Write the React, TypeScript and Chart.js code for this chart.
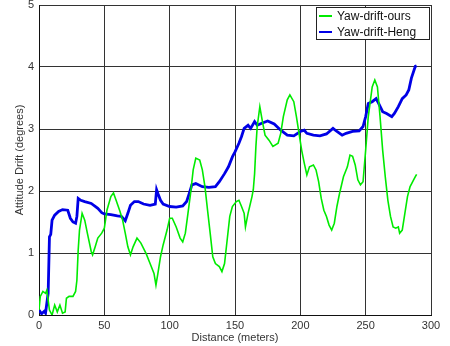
import React, { useEffect, useRef } from "react";
import { Chart, registerables } from "chart.js";

Chart.register(...registerables);

const xTicks = [0, 50, 100, 150, 200, 250, 300];
const yTicks = [0, 1, 2, 3, 4, 5];

const seriesNames = ["Yaw-drift-ours", "Yaw-drift-Heng"];

const oursX = [0, 1, 3, 5, 6, 7, 8, 10, 12, 14, 16, 18, 20, 21, 23, 26, 28, 29, 30, 31, 33, 35, 37, 40, 41, 43, 45, 48, 50, 52, 55, 57, 59, 62, 64, 66, 68, 70, 72, 75, 78, 82, 85, 88, 89.5, 91, 93, 95, 98, 100, 102, 105, 108, 110, 112, 114, 116, 118, 120, 123, 125, 127, 129, 131, 133, 135, 138, 140, 142, 144, 146, 148, 151, 153, 155, 157, 158, 160, 163, 164, 165, 166, 167, 169, 171, 173, 176, 179, 183, 185, 187, 190, 192, 195, 197, 199, 201, 203, 205, 207, 210, 212, 214, 216, 218, 220, 222, 224, 226, 228, 230, 233, 236, 238, 240, 242, 244, 246, 248, 250, 252, 255, 257, 259, 261, 263, 265, 267, 269, 271, 273, 275, 276, 278, 280, 282, 284, 286, 288, 289];
const oursY = [0.08, 0.3, 0.38, 0.35, 0.4, 0.24, 0.08, 0, 0.16, 0.05, 0.16, 0.03, 0.05, 0.27, 0.3, 0.3, 0.38, 0.56, 1.05, 1.37, 1.64, 1.53, 1.32, 1.02, 0.97, 1.1, 1.24, 1.32, 1.4, 1.69, 1.91, 1.97, 1.85, 1.67, 1.53, 1.32, 1.1, 0.97, 1.1, 1.24, 1.16, 0.99, 0.83, 0.67, 0.48, 0.67, 0.94, 1.13, 1.37, 1.56, 1.56, 1.42, 1.24, 1.18, 1.32, 1.64, 1.96, 2.34, 2.53, 2.5, 2.34, 2.07, 1.69, 1.32, 0.94, 0.83, 0.78, 0.7, 0.83, 1.21, 1.59, 1.75, 1.83, 1.85, 1.75, 1.64, 1.42, 1.64, 1.91, 2.02, 2.28, 2.72, 3.04, 3.36, 3.12, 2.9, 2.82, 2.72, 2.77, 2.93, 3.2, 3.47, 3.55, 3.44, 3.2, 2.93, 2.66, 2.45, 2.26, 2.39, 2.42, 2.34, 2.15, 1.88, 1.69, 1.59, 1.45, 1.37, 1.48, 1.75, 1.96, 2.23, 2.39, 2.58, 2.56, 2.42, 2.18, 2.1, 2.15, 2.66, 3.2, 3.68, 3.79, 3.68, 3.2, 2.66, 2.23, 1.85, 1.59, 1.42, 1.4, 1.42, 1.32, 1.37, 1.64, 1.91, 2.07, 2.15, 2.23, 2.27];

const hengX = [0, 2, 4, 5, 7, 8, 9, 10, 12, 15, 18, 22, 24, 26, 28, 29, 30, 32, 35, 40, 45, 48, 50, 55, 60, 63, 66, 68, 70, 73, 76, 80, 85, 89, 90, 91, 93, 95, 100, 105, 110, 113, 115, 117, 120, 125, 130, 135, 138, 142, 145, 148, 150, 153, 155, 157, 160, 162, 165, 167, 170, 175, 180, 185, 190, 195, 200, 203, 205, 210, 215, 220, 225, 228, 232, 235, 240, 245, 248, 250, 252, 255, 258, 260, 263, 266, 270, 272, 275, 278, 281, 283, 285, 288, 289];
const hengY = [0.08, 0.02, 0.06, 0.03, 0.35, 1.26, 1.3, 1.53, 1.61, 1.67, 1.7, 1.69, 1.56, 1.5, 1.48, 1.59, 1.88, 1.85, 1.83, 1.8, 1.72, 1.65, 1.63, 1.62, 1.6, 1.59, 1.52, 1.64, 1.77, 1.83, 1.83, 1.79, 1.77, 1.79, 2.02, 1.96, 1.85, 1.79, 1.75, 1.74, 1.76, 1.83, 1.96, 2.1, 2.12, 2.07, 2.06, 2.07, 2.15, 2.28, 2.39, 2.55, 2.63, 2.77, 2.88, 3.01, 3.06, 3.01, 3.12, 3.06, 3.09, 3.13, 3.08, 2.98, 2.9, 2.89, 2.96, 2.98, 2.93, 2.9, 2.89, 2.92, 3.01, 2.96, 2.9, 2.93, 2.96, 2.97, 3.04, 3.2, 3.41, 3.44, 3.49, 3.41, 3.28, 3.25, 3.2, 3.25, 3.36, 3.49, 3.55, 3.63, 3.82, 4.01, 4.02];

const FONT = "'Liberation Sans', Arial, Helvetica, sans-serif";
const GREEN = "rgb(0,235,0)";
const BLUE = "rgb(0,0,230)";

const legendPlugin = {
  id: "boxLegend",
  afterDraw(chart: any) {
    const { ctx, chartArea } = chart;
    const w = 113;
    const h = 32;
    const right = chartArea.right - 2;
    const left = right - w;
    const top = chartArea.top + 2;
    ctx.save();
    ctx.fillStyle = "#fff";
    ctx.fillRect(left, top, w, h);
    ctx.strokeStyle = "#222";
    ctx.lineWidth = 1;
    ctx.strokeRect(left + 0.5, top + 0.5, w, h);
    const colors = [GREEN, BLUE];
    ctx.font = `12px ${FONT}`;
    ctx.textBaseline = "middle";
    ctx.textAlign = "left";
    seriesNames.forEach((name, i) => {
      const y = top + 9 + i * 16;
      ctx.strokeStyle = colors[i];
      ctx.lineWidth = 2;
      ctx.beginPath();
      ctx.moveTo(left + 3, y);
      ctx.lineTo(left + 16, y);
      ctx.stroke();
      ctx.fillStyle = "#111";
      ctx.fillText(name, left + 21, y + 1);
    });
    ctx.restore();
  },
};

export default function App() {
  const ref = useRef<HTMLCanvasElement | null>(null);

  useEffect(() => {
    document.body.style.margin = "0";
    const canvas = ref.current;
    if (!canvas) return;
    const chart = new Chart(canvas, {
      type: "line",
      data: {
        datasets: [
          {
            label: seriesNames[0],
            data: oursX.map((x, i) => ({ x, y: oursY[i] })),
            borderColor: GREEN,
            borderWidth: 1.6,
            pointRadius: 0,
            tension: 0,
            fill: false,
          },
          {
            label: seriesNames[1],
            data: hengX.map((x, i) => ({ x, y: hengY[i] })),
            borderColor: BLUE,
            borderWidth: 2.8,
            pointRadius: 0,
            tension: 0,
            fill: false,
          },
        ],
      },
      options: {
        animation: false,
        responsive: false,
        devicePixelRatio: 1,
        layout: { padding: { top: 5, right: 19, left: 0, bottom: 0 } },
        plugins: {
          legend: { display: false },
          tooltip: { enabled: false },
        },
        scales: {
          x: {
            type: "linear",
            min: 0,
            max: 300,
            afterBuildTicks: (scale: any) => {
              scale.ticks = xTicks.map((v) => ({ value: v }));
            },
            afterFit: (scale: any) => {
              scale.height = 31;
              scale.paddingLeft = 0;
              scale.paddingRight = 0;
            },
            ticks: {
              padding: 4,
              color: "#333",
              font: { family: FONT, size: 11 },
              maxRotation: 0,
            },
            grid: { color: "#333", lineWidth: 1, drawTicks: false },
            border: { color: "#111", width: 1 },
            title: {
              display: true,
              text: "Distance (meters)",
              color: "#333",
              font: { family: FONT, size: 11 },
              padding: { top: 0, bottom: 1 },
            },
          },
          y: {
            type: "linear",
            min: 0,
            max: 5,
            afterBuildTicks: (scale: any) => {
              scale.ticks = yTicks.map((v) => ({ value: v }));
            },
            afterFit: (scale: any) => {
              scale.width = 39;
              scale.paddingTop = 0;
              scale.paddingBottom = 0;
            },
            ticks: {
              padding: 5,
              color: "#333",
              font: { family: FONT, size: 11 },
            },
            grid: { color: "#333", lineWidth: 1, drawTicks: false },
            border: { color: "#111", width: 1 },
            title: {
              display: true,
              text: "Attitude Drift (degrees)",
              color: "#333",
              font: { family: FONT, size: 11 },
              padding: { top: 13, bottom: 0 },
            },
          },
        },
      },
      plugins: [legendPlugin],
    });
    return () => chart.destroy();
  }, []);

  return (
    <div style={{ width: 450, height: 346 }}>
      <canvas ref={ref} width={450} height={346} style={{ display: "block" }} />
    </div>
  );
}
